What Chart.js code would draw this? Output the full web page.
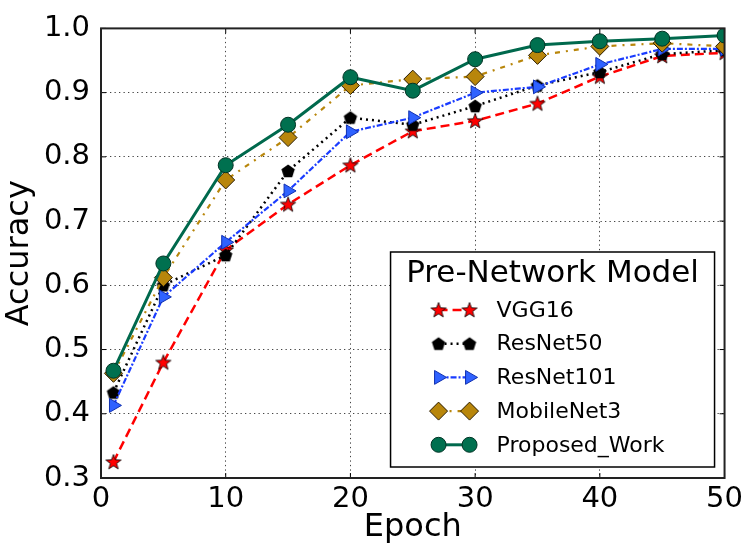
<!DOCTYPE html>
<html>
<head>
<meta charset="utf-8">
<script src="https://cdn.jsdelivr.net/npm/chart.js@4.4.1/dist/chart.umd.min.js"></script>
<style>
  html, body { margin: 0; padding: 0; background: #fff; }
  #wrap { width: 747px; height: 555px; }
</style>
</head>
<body>
<div id="wrap"><canvas id="c" width="747" height="555"></canvas></div>
<script>
  /* ---------- data ---------- */
  var epochs = [1, 5, 10, 15, 20, 25, 30, 35, 40, 45, 50];
  var vgg16 = [0.325, 0.480, 0.655, 0.726, 0.787, 0.840, 0.856, 0.883, 0.925, 0.957, 0.962];
  var resnet50 = [0.433, 0.600, 0.647, 0.778, 0.861, 0.850, 0.879, 0.911, 0.932, 0.960, 0.966];
  var resnet101 = [0.413, 0.582, 0.667, 0.747, 0.839, 0.861, 0.900, 0.909, 0.944, 0.968, 0.968];
  var mobilenet3 = [0.463, 0.612, 0.764, 0.830, 0.911, 0.921, 0.925, 0.958, 0.972, 0.977, 0.972];
  var proposed = [0.467, 0.634, 0.787, 0.850, 0.924, 0.903, 0.952, 0.974, 0.980, 0.984, 0.989];
  var xTicks = [0, 10, 20, 30, 40, 50];
  var yTicks = [0.3, 0.4, 0.5, 0.6, 0.7, 0.8, 0.9, 1.0];
  var legendTitle = "Pre-Network Model";

  var FONT = "'DejaVu Sans', sans-serif";

  /* ---------- custom marker sprites ---------- */
  function sprite(size, draw) {
    var cv = document.createElement("canvas");
    cv.width = size; cv.height = size;
    var g = cv.getContext("2d");
    draw(g, size / 2);
    return cv;
  }
  var starImg = sprite(18, function (g, c) {
    g.beginPath();
    for (var i = 0; i < 10; i++) {
      var r = i % 2 === 0 ? 8 : 3.3;
      var a = -Math.PI / 2 + i * Math.PI / 5;
      g.lineTo(c + r * Math.cos(a), c + 0.5 + r * Math.sin(a));
    }
    g.closePath();
    g.fillStyle = "#ff0000"; g.fill();
    g.lineWidth = 0.8; g.strokeStyle = "#000"; g.stroke();
  });
  var pentImg = sprite(16, function (g, c) {
    g.beginPath();
    for (var i = 0; i < 5; i++) {
      var a = -Math.PI / 2 + i * 2 * Math.PI / 5;
      g.lineTo(c + 7 * Math.cos(a), c + 0.5 + 7 * Math.sin(a));
    }
    g.closePath();
    g.fillStyle = "#000"; g.fill();
  });

  function pts(xs, ys) {
    return xs.map(function (x, i) { return { x: x, y: ys[i] }; });
  }

  var series = [
    { label: "VGG16", data: vgg16, color: "#ff0000", dash: [9, 5], width: 2.5,
      style: starImg, radius: 9, fill: "#ff0000", edge: "#000", rot: 0, order: 5 },
    { label: "ResNet50", data: resnet50, color: "#000000", dash: [2, 4], width: 2.5,
      style: pentImg, radius: 8, fill: "#000", edge: "#000", rot: 0, order: 4 },
    { label: "ResNet101", data: resnet101, color: "#1a3cff", dash: [6, 2, 2, 2], width: 2.2,
      style: "triangle", radius: 8, fill: "#2f62ff", edge: "#1030b0", rot: 90, order: 3 },
    { label: "MobileNet3", data: mobilenet3, color: "#b8860b", dash: [5, 6, 2, 6], width: 2.2,
      style: "rectRot", radius: 9, fill: "#b8860b", edge: "#2a1c00", rot: 0, order: 2 },
    { label: "Proposed_Work", data: proposed, color: "#00694d", dash: [], width: 3,
      style: "circle", radius: 7.5, fill: "#00704f", edge: "#003324", rot: 0, order: 1 }
  ];

  /* ---------- frame, inward ticks and legend ---------- */
  function drawLegend(chart) {
    var ctx = chart.ctx, a = chart.chartArea;
    var w = 324, h = 215;
    var bx = a.right - 10 - w, by = a.bottom - 11 - h;
    ctx.save();
    ctx.fillStyle = "#fff";
    ctx.fillRect(bx, by, w, h);
    ctx.lineWidth = 1.5;
    ctx.strokeStyle = "#000";
    ctx.strokeRect(bx, by, w, h);
    ctx.fillStyle = "#000";
    ctx.textAlign = "center";
    ctx.textBaseline = "middle";
    ctx.font = "31px " + FONT;
    ctx.fillText(legendTitle, bx + w / 2, by + 22);
    ctx.font = "22px " + FONT;
    ctx.textAlign = "left";
    series.forEach(function (s, i) {
      var y = by + 58 + i * 33.7;
      var x1 = bx + 48, x2 = bx + 79;
      ctx.save();
      ctx.strokeStyle = s.color;
      ctx.lineWidth = s.width;
      ctx.setLineDash(s.dash);
      ctx.beginPath(); ctx.moveTo(x1, y); ctx.lineTo(x2, y); ctx.stroke();
      ctx.restore();
      [x1, x2].forEach(function (x) {
        ctx.save();
        ctx.fillStyle = s.fill;
        ctx.strokeStyle = s.edge;
        ctx.lineWidth = 1;
        Chart.helpers.drawPoint(ctx, {
          pointStyle: s.style, radius: s.radius, rotation: s.rot, borderWidth: 1
        }, x, y);
        ctx.restore();
      });
      ctx.fillStyle = "#000";
      ctx.fillText(s.label, bx + 106, y + 1);
    });
    ctx.restore();
  }

  var framePlugin = {
    id: "frame",
    afterDatasetsDraw: function (chart) {
      var ctx = chart.ctx, a = chart.chartArea;
      var sx = chart.scales.x, sy = chart.scales.y;
      ctx.save();
      ctx.strokeStyle = "#000";
      ctx.lineWidth = 1;
      xTicks.forEach(function (v) {
        var px = sx.getPixelForValue(v);
        ctx.beginPath();
        ctx.moveTo(px, a.bottom); ctx.lineTo(px, a.bottom - 5);
        ctx.moveTo(px, a.top); ctx.lineTo(px, a.top + 5);
        ctx.stroke();
      });
      yTicks.forEach(function (v) {
        var py = sy.getPixelForValue(v);
        ctx.beginPath();
        ctx.moveTo(a.left, py); ctx.lineTo(a.left + 5, py);
        ctx.moveTo(a.right, py); ctx.lineTo(a.right - 5, py);
        ctx.stroke();
      });
      ctx.lineWidth = 2;
      ctx.strokeStyle = "#222";
      ctx.strokeRect(a.left, a.top, a.right - a.left, a.bottom - a.top);
      ctx.restore();
    },
    afterDraw: drawLegend
  };

  var datasets = series.map(function (s) {
    return {
      label: s.label,
      data: pts(epochs, s.data),
      borderColor: s.color,
      borderWidth: s.width,
      borderDash: s.dash,
      pointStyle: s.style,
      pointRadius: s.radius,
      pointRotation: s.rot,
      pointBackgroundColor: s.fill,
      pointBorderColor: s.edge,
      pointBorderWidth: 1,
      tension: 0,
      fill: false,
      order: s.order
    };
  });

  var gridDots = {
    color: "#444",
    lineWidth: 1,
    drawTicks: false
  };

  new Chart(document.getElementById("c"), {
    type: "line",
    data: { datasets: datasets },
    options: {
      responsive: false,
      animation: false,
      layout: { padding: { left: 0, top: 17, right: 21, bottom: 6 } },
      plugins: { legend: { display: false }, tooltip: { enabled: false } },
      scales: {
        x: {
          type: "linear", min: 0, max: 50,
          afterFit: function (s) { s.height = 71; },
          afterBuildTicks: function (s) { s.ticks = xTicks.map(function (v) { return { value: v }; }); },
          grid: gridDots,
          border: { display: false, dash: [1.3, 3.2] },
          ticks: { color: "#000", padding: 4, font: { family: FONT, size: 29 }, maxRotation: 0 },
          title: { display: true, text: "Epoch", color: "#000", padding: { top: 0, bottom: 2 }, font: { family: FONT, size: 32 } }
        },
        y: {
          min: 0.3, max: 1.0,
          afterFit: function (s) { s.width = 101; },
          afterBuildTicks: function (s) { s.ticks = yTicks.map(function (v) { return { value: v }; }); },
          grid: gridDots,
          border: { display: false, dash: [1.3, 3.2] },
          ticks: { color: "#000", padding: 11, font: { family: FONT, size: 29 },
                   callback: function (v) { return v.toFixed(1); } },
          title: { display: true, text: "Accuracy", color: "#000", padding: 0, font: { family: FONT, size: 32 } }
        }
      }
    },
    plugins: [framePlugin]
  });
</script>
</body>
</html>
